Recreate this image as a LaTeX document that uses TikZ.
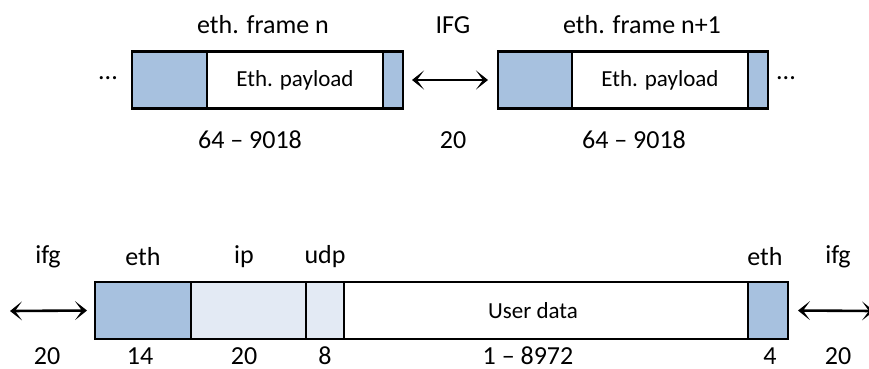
\documentclass[tikz,border=0pt]{standalone}
\usepackage{fontspec}
\setmainfont{Carlito}
\usetikzlibrary{arrows.meta}
\definecolor{hdr}{HTML}{A7C1DF}
\definecolor{lhdr}{HTML}{E3EAF4}
\tikzset{
  seg/.style={draw=black, line width=2.6pt, minimum height=57pt, inner sep=0pt, outer sep=0pt, anchor=west},
  lbl/.style={font=\fontsize{26}{30}\selectfont, inner sep=0pt},
  inlbl/.style={font=\fontsize{23}{27}\selectfont, inner sep=0pt},
  gaparrow/.style={line width=2.6pt, {Stealth[length=12pt,width=19pt,inset=7pt]}-{Stealth[length=12pt,width=19pt,inset=7pt]}},
}
\begin{document}
\begin{tikzpicture}[x=1pt,y=-1pt]
\useasboundingbox (0,0) rectangle (869,368);
% top: frame n
\node[seg, fill=hdr, minimum width=75pt] (nh) at (132,80) {};
\node[seg, fill=white, minimum width=176pt] (np) at (nh.east) {};
\node[seg, fill=hdr, minimum width=20pt] (nf) at (np.east) {};
\node[inlbl] (npl) at (np.center) {Eth. payload};
% top: frame n+1
\node[seg, fill=hdr, minimum width=74pt] (mh) at (498,80) {};
\node[seg, fill=white, minimum width=176pt] (mp) at (mh.east) {};
\node[seg, fill=hdr, minimum width=20pt] (mf) at (mp.east) {};
\node[inlbl] (mpl) at (mp.center) {Eth. payload};
% dots
\node[lbl] (dl) at (108,78) {...};
\node[lbl] (dr) at (786,78) {...};
% IFG arrow
\draw[gaparrow] ([xshift=9pt]nf.east) -- ([xshift=-10pt]mh.west);
% top labels
\node[lbl] (ln) at (263,25) {eth. frame n};
\node[lbl] (lifg) at (453,25) {IFG};
\node[lbl] (lm) at (642,25) {eth. frame n+1};
\node[lbl] (sn) at (250,140) {64 -- 9018};
\node[lbl] (sifg) at (453,140) {20};
\node[lbl] (sm) at (634,140) {64 -- 9018};
% bottom packet
\node[seg, fill=hdr, minimum width=96pt] (be) at (95,310.5) {};
\node[seg, fill=lhdr, minimum width=115pt] (bi) at (be.east) {};
\node[seg, fill=lhdr, minimum width=38pt] (bu) at (bi.east) {};
\node[seg, fill=white, minimum width=404pt] (bd) at (bu.east) {};
\node[seg, fill=hdr, minimum width=40pt] (bf) at (bd.east) {};
\node[inlbl] (bdl) at (533,310.5) {User data};
% bottom arrows
\coordinate (al) at (10,311);
\coordinate (ar) at (874,311);
\draw[gaparrow] (al) -- ([xshift=-8pt]be.west);
\draw[gaparrow] ([xshift=10pt]bf.east) -- (ar);
% bottom labels
\node[lbl] (t1) at (48,257) {ifg};
\node[lbl] (t2) at (143,257) {eth};
\node[lbl] (t3) at (244,257) {ip};
\node[lbl] (t4) at (325,257) {udp};
\node[lbl] (t5) at (765,257) {eth};
\node[lbl] (t6) at (838,257) {ifg};
\node[lbl] (u1) at (47,356) {20};
\node[lbl] (u2) at (140,356) {14};
\node[lbl] (u3) at (244,356) {20};
\node[lbl] (u4) at (325,356) {8};
\node[lbl] (u5) at (528,356) {1 -- 8972};
\node[lbl] (u6) at (770,356) {4};
\node[lbl] (u7) at (838,356) {20};
\end{tikzpicture}
\end{document}
